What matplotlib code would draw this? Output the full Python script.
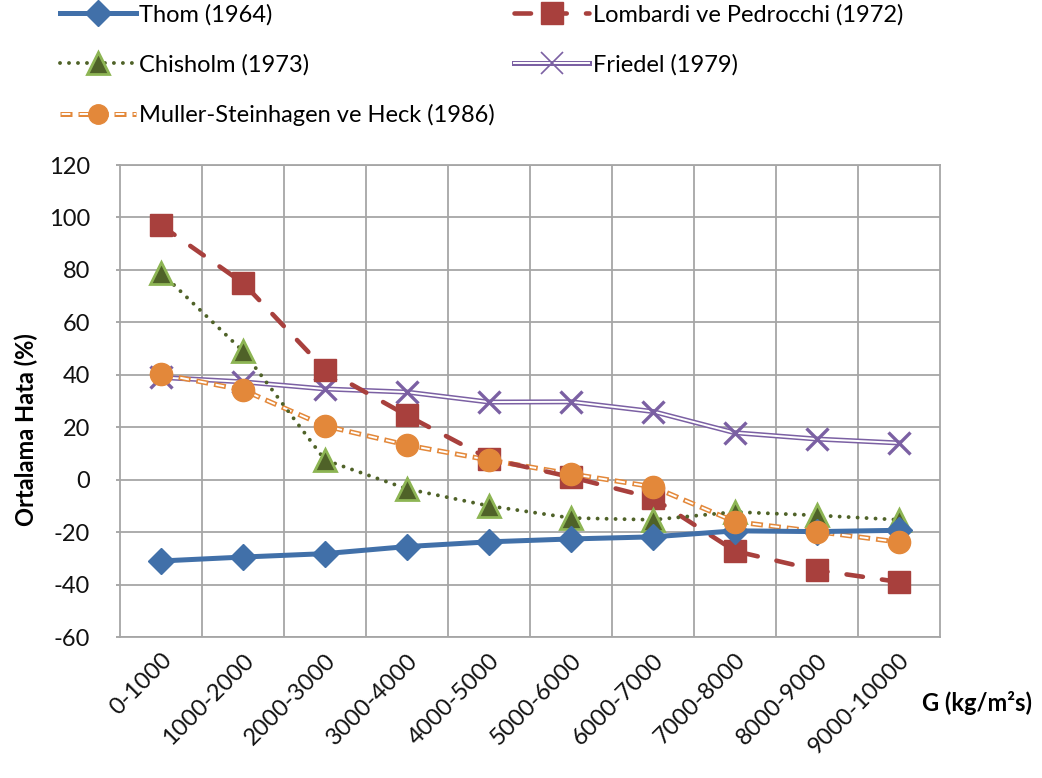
import matplotlib
matplotlib.use("Agg")
import matplotlib.pyplot as plt
from matplotlib.lines import Line2D
from matplotlib.legend_handler import HandlerTuple
import numpy as np

plt.rcParams['font.family'] = ['Lato', 'DejaVu Sans']

categories = ["0-1000", "1000-2000", "2000-3000", "3000-4000", "4000-5000",
              "5000-6000", "6000-7000", "7000-8000", "8000-9000", "9000-10000"]

thom = [-31, -29.5, -28.2, -25.5, -23.7, -22.6, -21.8, -19.5, -19.8, -19.3]
lombardi = [97, 75, 42, 24.5, 8, 1, -7, -27.2, -34.5, -39]
chisholm = [79, 49, 7.5, -3.5, -10, -14.6, -15.3, -12.3, -13.6, -15.3]
friedel = [39, 37.3, 34.6, 33.4, 29.6, 29.7, 26, 17.9, 15.5, 14]
muller = [40.3, 34.2, 20.5, 13.2, 7.5, 2.2, -2.7, -16, -19.8, -23.8]

labels = ["Thom (1964)", "Lombardi ve Pedrocchi (1972)", "Chisholm (1973)",
          "Friedel (1979)", "Muller-Steinhagen ve Heck (1986)"]

yticks = list(range(-60, 121, 20))

blue = "#4170A9"
red = "#A8403D"
green_dark = "#4F6228"
green_light = "#8DB554"
purple = "#7B60A3"
orange = "#E3883A"

FS = 17
PX = 0.72  # points per pixel at 100 dpi

fig = plt.figure(figsize=(10.42, 7.78), dpi=100)
ax = fig.add_axes([0.1152, 0.1812, 0.7868, 0.6067])

x = np.arange(len(categories))

# --- line styles -----------------------------------------------------------
thom_kw = dict(color=blue, lw=3.6, marker='D', ms=13, mfc=blue, mec=blue)
lomb_kw = dict(color=red, lw=3.3, ls=(0, (3.6, 4.2)), dash_capstyle='round',
               marker='s', ms=15.5, mfc=red, mec=red)
chis_kw = dict(color=green_dark, lw=2.8, ls=(0, (0.01, 2.3)),
               dash_capstyle='round', marker='^', ms=16, mfc=green_dark,
               mec=green_light, mew=2)

# purple double line
fr_outer = dict(color=purple, lw=3.6)
fr_inner = dict(color='white', lw=1.4)

# orange hollow dashes: outer dash with a white core inset from each end
mu_lw_o, mu_lw_i = 3.6, 1.4
on_px, off_px, border_px = 12.0, 6.0, 1.6
on_o, off_o = on_px * PX / mu_lw_o, off_px * PX / mu_lw_o
on_i = (on_px - 2 * border_px) * PX / mu_lw_i
off_i = (off_px + 2 * border_px) * PX / mu_lw_i
period_i = on_i + off_i
offs_i = period_i - border_px * PX / mu_lw_i
mu_outer = dict(color=orange, lw=mu_lw_o, ls=(0, (on_o, off_o)))
mu_inner = dict(color='white', lw=mu_lw_i, ls=(offs_i, (on_i, off_i)))

ax.plot(x, thom, zorder=5, **thom_kw)
ax.plot(x, lombardi, zorder=4, **lomb_kw)
ax.plot(x, chisholm, zorder=4, **chis_kw)

ax.plot(x, friedel, zorder=3, **fr_outer)
ax.plot(x, friedel, zorder=3, **fr_inner)
ax.plot(x, friedel, ls='none', marker='x', ms=16, mec=purple, mew=2.4, zorder=3)

ax.plot(x, muller, zorder=3, **mu_outer)
ax.plot(x, muller, zorder=3, **mu_inner)
ax.plot(x, muller, ls='none', marker='o', ms=16, mfc=orange, mec=orange, zorder=6)

# --- axes ------------------------------------------------------------------
ax.set_xlim(-0.5, len(categories) - 0.5)
ax.set_ylim(-60, 120)
ax.set_yticks(yticks)
ax.set_yticklabels([str(v) for v in yticks], fontsize=FS, color='#111111')
ax.set_xticks(x)
ax.set_xticklabels(categories, rotation=45, ha='right', va='top',
                   rotation_mode='anchor', fontsize=FS, color='#111111')
ax.tick_params(axis='x', length=0, pad=9)
ax.set_xticks(np.arange(0.5, len(categories) - 0.5, 1), minor=True)
ax.tick_params(axis='x', which='minor', length=0)
ax.tick_params(axis='y', length=3, width=1.2, color='#999999', pad=18.5)

ax.grid(True, axis='y', color='#A6A6A6', lw=1.3)
ax.grid(True, axis='x', which='minor', color='#A6A6A6', lw=1.3)
ax.grid(False, axis='x', which='major')
ax.set_axisbelow(True)
for s in ax.spines.values():
    s.set_color('#A6A6A6')
    s.set_linewidth(1.3)

fig.text(26 / 1042, 1 - 430 / 778, "Ortalama Hata (%)", fontsize=FS,
         fontweight='bold', rotation=90, ha='center', va='center')
fig.text(1032 / 1042, 1 - 703 / 778, "G (kg/m²s)", fontsize=FS,
         fontweight='bold', ha='right', va='center')

# --- legend (two columns, filled row by row) -------------------------------
leg_thom = Line2D([], [], **thom_kw)
leg_lomb = Line2D([], [], **lomb_kw)
leg_chis = Line2D([], [], **chis_kw)
leg_fr = (Line2D([], [], **fr_outer),
          Line2D([], [], **fr_inner),
          Line2D([], [], ls='none', marker='x', ms=16, mec=purple, mew=1.2))
leg_mu = (Line2D([], [], **mu_outer),
          Line2D([], [], **mu_inner),
          Line2D([], [], ls='none', marker='o', ms=14, mfc=orange, mec=orange))

handles = [leg_thom, leg_chis, leg_mu, leg_lomb, leg_fr]
hlabels = [labels[0], labels[2], labels[4], labels[1], labels[3]]
fig.legend(handles, hlabels, ncol=2, loc='upper left',
           bbox_to_anchor=(60 / 1042, 1 - 4 / 778), frameon=False, fontsize=FS,
           handlelength=3.2, handletextpad=0.15, labelspacing=1.2,
           columnspacing=0.8, borderpad=0, borderaxespad=0,
           handler_map={tuple: HandlerTuple(ndivide=1, pad=0)})

fig.savefig("out.png", dpi=100, facecolor='white')
